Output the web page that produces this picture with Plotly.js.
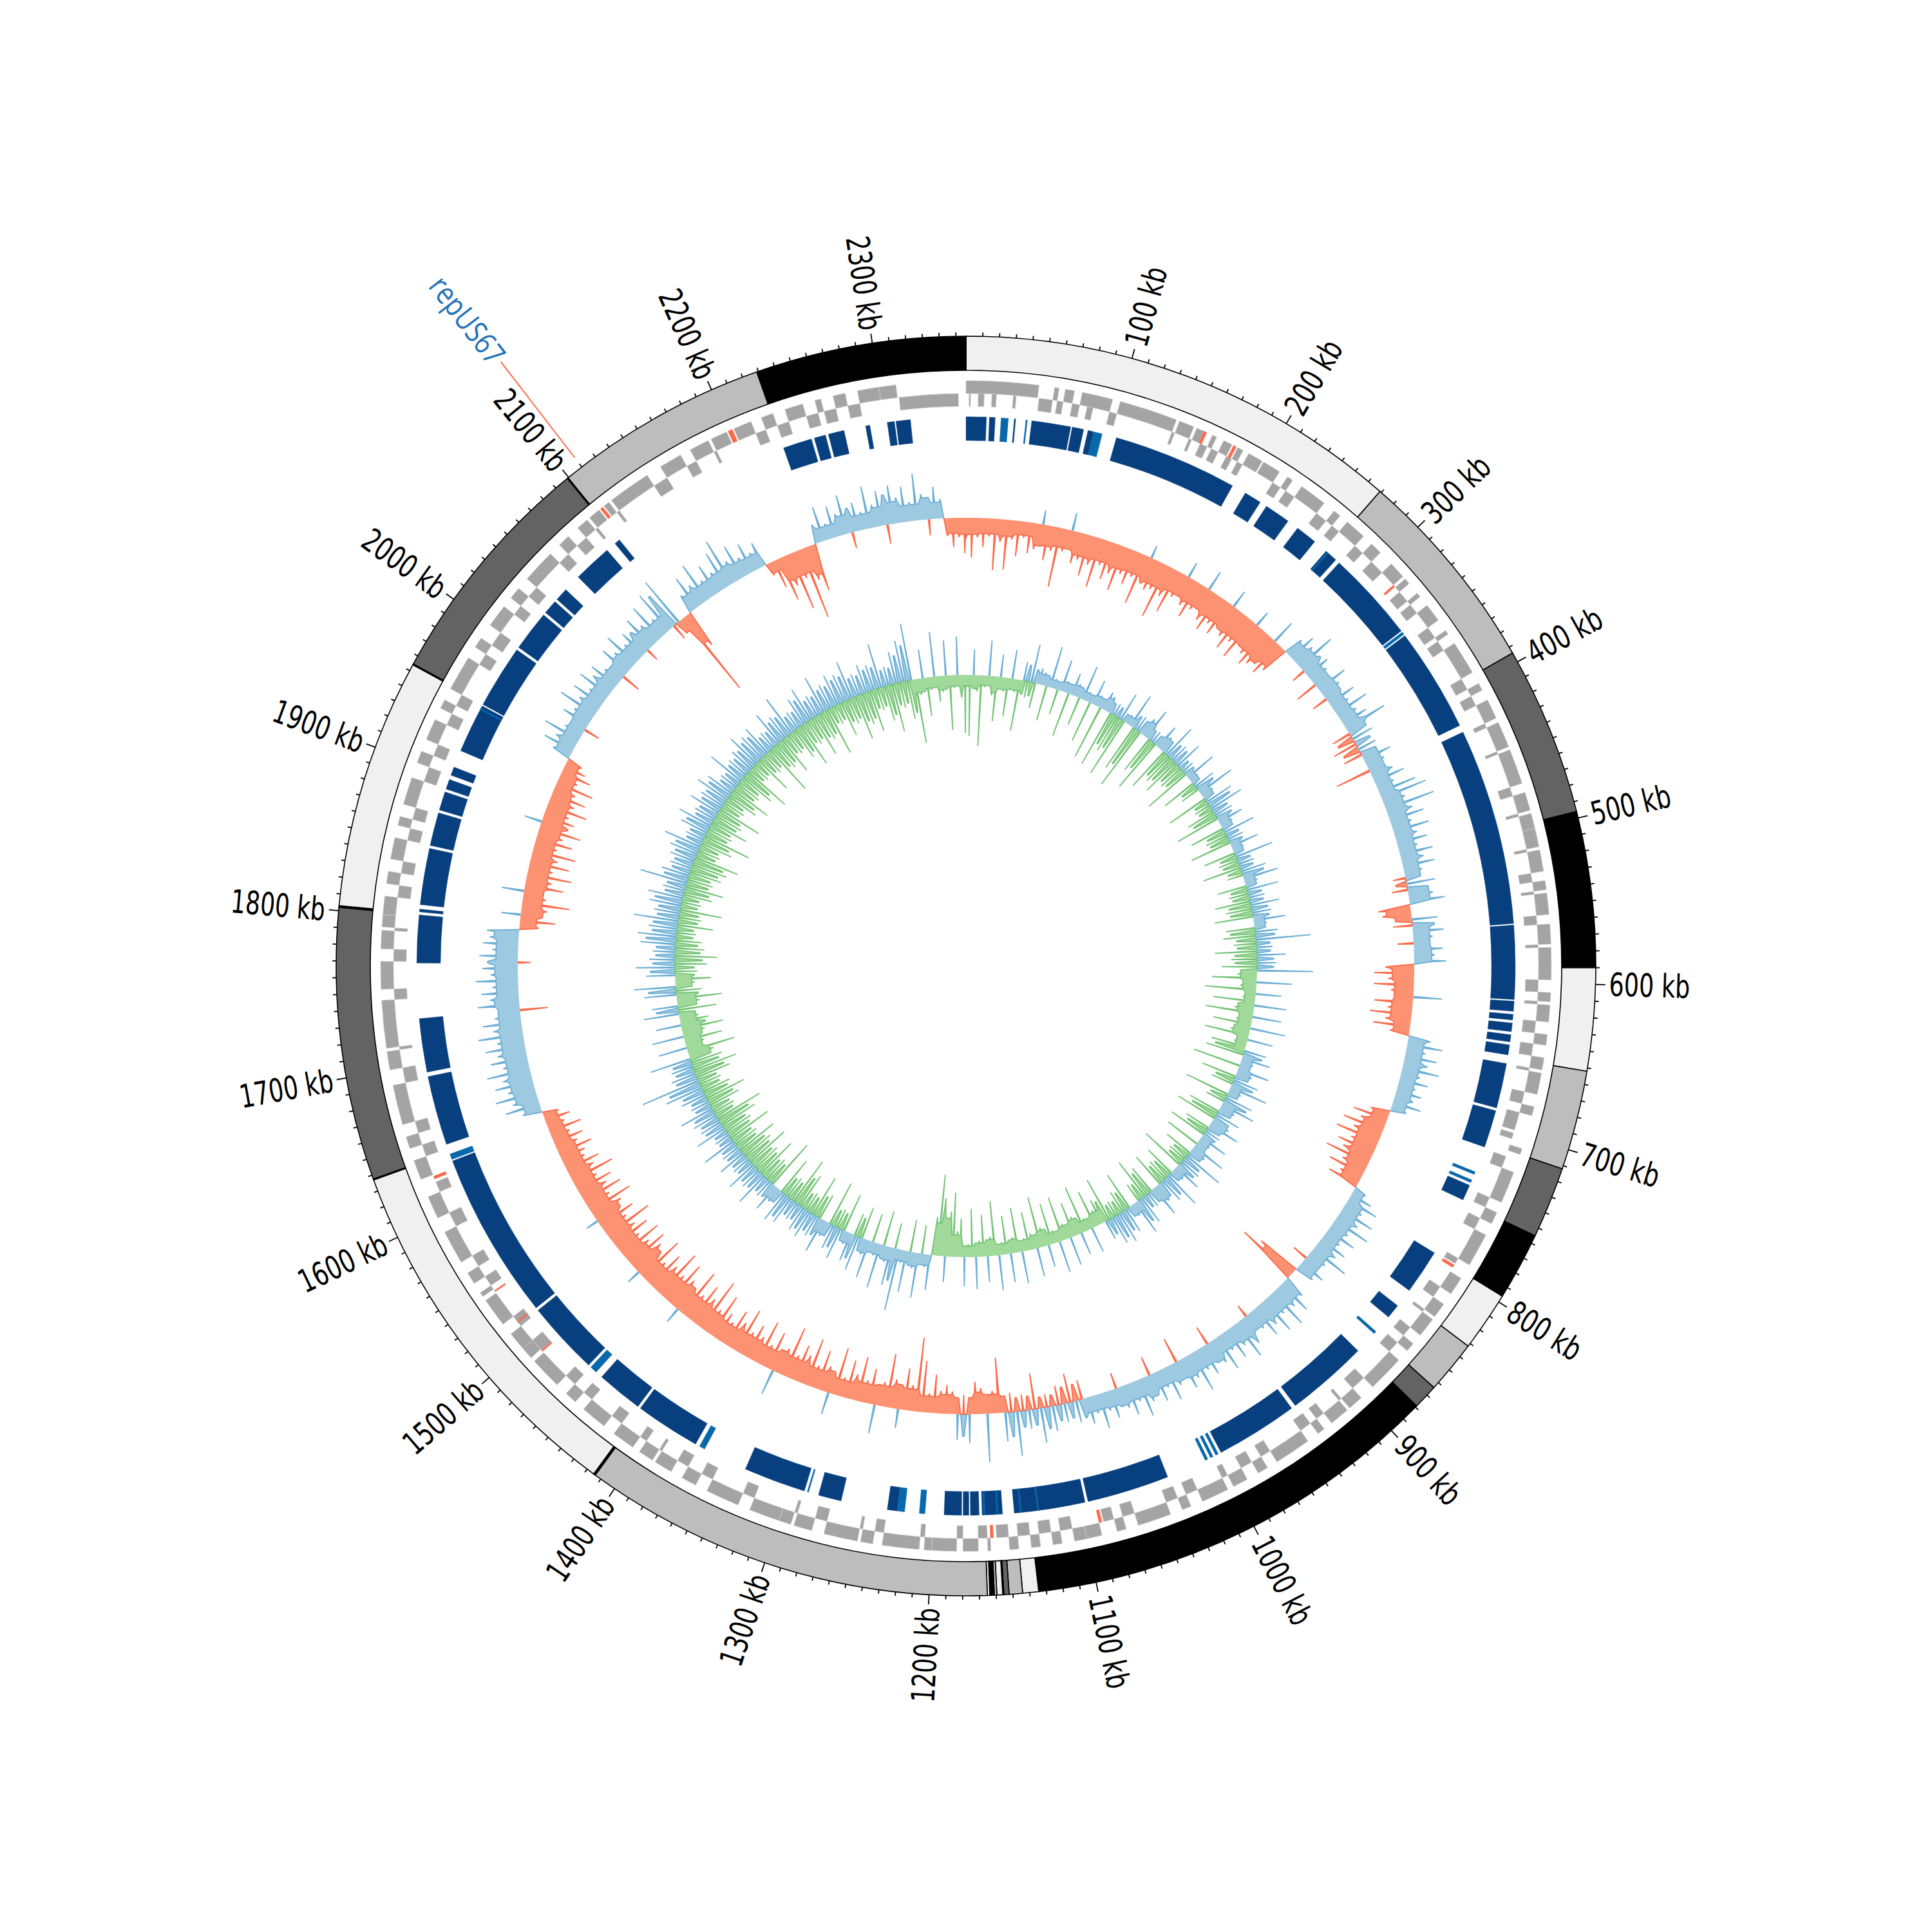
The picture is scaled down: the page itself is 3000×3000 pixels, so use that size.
<!DOCTYPE html>
<html><head><meta charset="utf-8">
<script src="https://cdn.plot.ly/plotly-3.0.1.min.js"></script>
<style>html,body{margin:0;padding:0;background:#fff}</style>
</head><body><div id="chart" style="width:3000px;height:3000px"></div>
<script>
// ---------------- DATA ----------------
const genomeSizeKb = 2356;
const binKb = 5;

// contigs (outer ring): start, end (kb) and shade class 0=light 1=grey 2=dark 3=black
const contigStartKb = [0,269,394,496,590,652,712,755,796,832,864,879,1134.6,1144.2,1152.3,1155.4,1156.1,1159.6,1161.1,1163.8,1165.3,1414,1414.6,1415.2,1637,1637.6,1802,1803,1954,1954.6,2099,2099.6,2229];
const contigEndKb   = [269,394,496,590,652,712,755,796,832,864,879,1134.6,1144.2,1152.3,1155.4,1156.1,1159.6,1161.1,1163.8,1165.3,1414,1414.6,1415.2,1637,1637.6,1802,1803,1954,1954.6,2099,2099.6,2229,2356];
const contigShade   = [0,1,2,3,0,1,2,3,0,1,2,3,0,1,2,3,0,1,3,0,1,2,3,0,1,2,3,0,1,2,3,1,3];

// CDS, forward strand (kb intervals)
const cdsForward = [[0,47],[57,60],[64,70],[75,95],[100,138],[140,150],[152,157],[163,166],[171,177],[181,185],[189,199],
[200,212],[218,222],[229,247],[255,260],[266,280],[287,295],[305,316],[318,322],[330,333],[340,352],[360,363],[370,392],
[400,405],[412,425],[428,445],[447,470],[476,488],[490,500],[500,512],[514,528],[534,540],[542,556],[562,575],[577,598],
[606,612],[614,625],[633,640],[648,656],[658,672],[680,686],[708,712],[724,745],[752,760],[768,790],
[800,812],[820,830],[832,845],[852,858],[866,890],[900,910],[912,925],[931,936],[944,968],[975,982],[990,1000],
[1004,1022],[1030,1036],[1044,1066],[1074,1080],[1090,1100],[1100,1108],[1116,1122],[1130,1136],[1144,1150],[1162,1164],[1170,1180],[1184,1200],
[1200,1205],[1208,1232],[1238,1246],[1248,1270],[1278,1290],[1292,1300],[1300,1320],[1328,1350],[1358,1368],[1376,1388],[1390,1400],
[1405,1420],[1428,1445],[1452,1460],[1468,1489],[1492,1500],[1500,1512],[1520,1539],[1542,1545],[1552,1560],[1568,1590],
[1600,1615],[1627,1640],[1648,1656],[1664,1690],[1700,1712],[1714,1745],[1752,1770],[1778,1790],[1792,1800],
[1800,1812],[1820,1828],[1836,1850],[1858,1864],[1872,1890],[1900,1908],[1916,1930],[1938,1944],[1952,1975],[1983,1990],
[2000,2015],[2022,2030],[2038,2060],[2068,2076],[2084,2092],[2094,2102],[2106,2110],[2112,2140],[2150,2165],[2172,2185],[2187,2198],
[2203,2215],[2222,2230],[2238,2250],[2258,2262],[2270,2278],[2286,2300],[2300,2311]];
// CDS, reverse strand
const cdsReverse = [[2,3],[8,12],[17,20],[31,33],[48,57],[60,64],[70,75],[80,84],[95,100],[138,140],[150,152],[158,163],[166,171],[177,181],[185,189],
[212,218],[222,229],[247,255],[260,266],[280,287],[295,305],[322,330],[333,340],[352,360],[363,370],[392,400],
[405,412],[425,428],[445,447],[470,476],[488,490],[512,514],[528,534],[540,542],[556,562],[575,577],[598,606],
[612,614],[625,633],[640,648],[656,658],[672,680],[686,698],[700,704],[716,724],[745,752],[760,768],[790,794],
[812,820],[830,832],[845,852],[858,866],[890,900],[910,912],[925,931],[936,944],[968,975],[982,990],
[1000,1004],[1022,1030],[1036,1044],[1066,1074],[1080,1087],[1108,1116],[1122,1130],[1136,1144],[1150,1158],[1164,1170],[1180,1184],
[1205,1208],[1232,1238],[1246,1248],[1270,1278],[1290,1292],[1320,1328],[1350,1358],[1368,1376],[1388,1390],
[1400,1405],[1420,1428],[1445,1452],[1460,1468],[1491,1500],[1512,1520],[1545,1552],[1560,1568],[1590,1600],
[1615,1622],[1640,1648],[1656,1664],[1690,1700],[1712,1714],[1745,1752],[1770,1778],[1790,1792],
[1812,1820],[1828,1836],[1850,1858],[1864,1872],[1890,1900],[1908,1916],[1930,1938],[1944,1952],[1975,1983],[1990,2000],
[2015,2022],[2030,2038],[2060,2068],[2076,2084],[2092,2094],[2110,2112],[2140,2150],[2165,2172],[2185,2187],
[2215,2222],[2230,2238],[2250,2258],[2262,2270],[2278,2286],[2312,2351]];
// rRNA / tRNA features
const rnaForward = [[157,159],[178,180],[2103,2105],[2199,2202]];
const rnaReverse = [[316,317.5],[795,797],[1088,1090],[1160,1162],[1490,1491],[1515,1516],[1540,1541],[1624,1626]];

// homology blocks (blue track)
const homologyStrong = [[0,14],[16,20],[33,34],[45,72],[73,81],[84,88],[104,190],[200,212],[217,235],[243,258],[268,277],[280,343],[347,419],[424,560],[561,612],[613,620],[622,626],[628,634],[636,641],[643,650],[656,687],[689,715],[743,754],[795,826],[839,849],[880,937],[940,997],[1037,1094],[1096,1145],[1153,1167],[1169,1175],[1176,1180],[1181,1193],[1225,1232],[1264,1280],[1290,1333],[1371,1416],[1418,1450],[1462,1513],[1515,1631],[1643,1691],[1694,1731],[1769,1802],[1804,1806],[1809,1848],[1850,1873],[1875,1888],[1890,1897],[1900,1906],[1918,1952],[1953,1997],[1999,2027],[2029,2039],[2041,2050],[2062,2089],[2096,2100],[2229,2249],[2251,2259],[2261,2272],[2287,2290],[2302,2307],[2308,2318]];
const homologyWeak = [[24,29],[41,42],[88,94],[269,270],[344,346],[733,735],[739,741],[862,864],[999,1001],[1003,1005],[1007,1009],[1128,1129],[1140,1141],[1156,1157],[1165,1166],[1206,1210],[1220,1225],[1287,1288],[1364,1368],[1455,1460],[1632,1636],[1949,1950]];

// GC content deviation, 5 kb windows starting at 0 kb
const gcContent = [
-32,-62,-30,-45,-28,-80,-35,-78,-30,-55,-25,-48,-40,22,-55,-38,-93,-35,28,-50,
-42,-65,-45,-78,-40,-60,-48,-72,-42,-55,-40,-80,20,-50,-45,-87,-48,-70,-40,25,
-45,-60,-42,32,-50,-62,-45,-58,28,-50,-66,-48,-70,25,-50,-63,-55,38,-58,-45,
30,45,35,64,-22,40,30,-35,50,32,-25,45,28,55,30,42,69,-30,35,-38,
30,-30,45,30,-56,35,50,28,60,74,35,79,40,55,32,57,35,48,30,52,
35,50,28,-20,45,-25,38,55,-50,-45,40,-30,48,30,-25,45,32,50,-45,-62,
-40,-62,-35,45,-60,-38,-65,-40,-58,-30,35,55,30,50,38,58,30,45,28,40,
30,45,25,-30,-55,-40,-65,-45,-70,-42,-60,-48,-72,-40,-58,-35,-50,20,35,50,
30,55,35,60,30,48,28,45,35,62,30,-25,42,30,-70,-98,35,55,38,65,
35,60,40,52,32,-20,45,62,35,50,30,58,40,-30,48,35,65,38,50,-40,
35,55,30,48,-30,40,60,32,50,35,-25,45,30,55,28,42,-30,35,-45,30,
-30,40,-20,55,-56,30,-25,70,-30,45,-86,-35,75,-40,-50,45,-30,40,-35,-45,
-35,-60,-30,-80,-115,-40,-65,30,-45,-84,-38,45,-55,-35,-70,-40,-60,-30,-75,35,
-40,-62,-35,-75,-45,-58,-38,-80,-42,40,-60,-35,-70,-40,-55,-38,-72,-45,-60,-35,
-45,-70,-40,-85,-48,-65,-42,-78,25,-50,-72,-45,-80,-48,-62,-40,-75,22,-55,-68,
-45,-70,-40,-62,-45,-78,-42,-60,20,-50,-72,-40,-65,-45,-58,-38,-70,-42,-55,-35,
-40,-55,-35,-48,-30,-52,-28,-40,-25,30,55,40,65,42,60,45,68,40,58,45,
62,42,70,45,60,40,-43,65,45,58,40,66,42,55,-20,60,40,55,45,50,
-30,-55,30,-40,-74,-36,35,-60,-40,-70,-38,-62,-42,-68,-36,-58,-40,-66,28,-50,
-38,-64,-40,-55,-35,-60,-30,-48,-35,-25,
30,50,35,60,30,-25,45,32,63,35,52,30,55,38,48,30,-30,50,35,58,32,45,-20,55,35,62,30,70,-25,80,
-139,-60,30,55,35,65,30,50,32,60,76,35,55,30,48,28,40,-20,-45,-70,
-50,-92,-45,-113,-55,-75,30,55,25,50,35,62,-25,45,28,66,35,55,-30,60,
40,55,30,73,40,-25,50,30,-28,-45,-30,-55];

// GC skew, 5 kb windows starting at 0 kb
const gcSkew = [
-20,-95,40,-25,-110,-18,55,-30,-70,35,-22,-60,45,-20,-80,30,-25,60,-40,25,
20,-55,65,15,-40,50,18,-70,35,20,-45,55,15,-65,40,18,-85,30,25,-90,
20,-60,45,-95,15,55,-75,25,-100,30,50,-60,20,-85,40,25,-70,55,-50,30,
-60,45,-40,20,-75,50,15,-55,35,-30,60,20,-65,45,-25,55,-45,30,-70,40,
20,-55,50,-35,25,-65,45,18,-50,60,-30,25,-60,40,-25,55,20,-45,50,-30,
25,-55,45,-40,30,-60,50,20,-45,35,-50,85,-35,25,-65,45,-40,30,-55,87,
-30,-70,55,-25,-80,40,-20,-65,50,-30,-75,45,-25,-60,55,-30,-70,40,-20,-55,
35,-60,45,20,-75,50,25,-55,40,-35,60,20,-70,45,-30,55,25,-50,40,-65,
30,50,-40,25,-60,45,20,-55,55,25,-45,65,-30,35,-70,45,20,-50,60,-35,
40,-55,30,50,-45,25,-65,45,-30,55,20,-60,40,-35,50,-25,45,-70,30,-40,
-25,-60,40,-20,-75,35,-30,-55,45,-25,-70,50,-20,-65,35,-30,-80,45,-25,-60,
-20,50,-70,-25,45,-60,-20,55,-85,-30,40,-65,-25,50,-75,-20,45,-60,-40,-100,
-70,40,-90,-126,-60,55,20,-45,70,25,-50,65,20,97,-40,60,25,-55,70,20,
-45,60,25,-50,55,-35,45,20,-60,50,-30,40,-70,25,55,-40,35,-65,45,-30,
40,-55,30,-75,45,-35,50,-60,25,45,-80,30,-40,55,-65,35,-45,50,-70,30,
-50,45,-65,30,-40,55,-70,25,-45,50,-60,35,-75,40,-35,55,-50,30,-65,40,
-45,60,-35,94,-55,40,-70,35,-50,65,-40,-75,45,-30,-60,50,-35,-65,40,-45,
-30,55,-60,40,-35,-70,50,-40,65,-30,-55,45,-35,60,-50,40,-65,35,-45,55,
-40,60,-30,45,-55,70,-35,40,-65,50,-30,55,-45,35,-60,75,-40,45,-50,35,
-55,40,-70,45,-35,60,-50,30,-75,45,-40,55,-60,35,-45,50,-70,40,-35,55,
-50,45,-65,30,-40,60,-55,35,-75,40,-30,55,-60,45,-35,50,-80,30,-45,55,
-60,40,-35,65,-50,30,-70,45,-40,55,-65,35,-45,60,-75,40,-30,50,-55,45,
-40,60,-70,35,-50,45,-65,40,-35,70,-55,30,-75,50,-40,65,-60,89,-100,-25,
45,-60,-20,70,-40,-25,55,-85,-20,60,-35,-90];

// labelled feature
const markerName = "repUS67";
const markerKb = 2110;

// ---------------- GEOMETRY / STYLE ----------------
const W = 3000, C = 1500;
const shadePalette = ['#f0f0f0','#bdbdbd','#636363','#000000'];
const R_OUT = 978, R_IN = 925;
const CDS_F = [889, 20], CDS_R = [869, 20];
const HOM = [816, 37];
const GC_R0 = 696, GC_H = 139;
const SK_R0 = 452, SK_H = 126;
const BAND = 0.85, SPIKE_HALF_KB = 0.6;
const TICK_FONT = '"Liberation Sans Narrow", "DejaVu Sans Condensed", "Roboto Condensed", "Liberation Sans", sans-serif';
const TICK_SIZE = 50;
const LABEL_FONT = '"Open Sans", "Noto Sans", sans-serif';
const LABEL_SIZE = 48;

const deg = kb => kb / genomeSizeKb * 360;

function bars(pairs, base, thick, color, lineColor, lineWidth) {
  return {
    type: 'barpolar',
    theta: pairs.map(p => deg((p[0] + p[1]) / 2)),
    width: pairs.map(p => deg(p[1] - p[0])),
    base: pairs.map(() => base),
    r: pairs.map(() => thick),
    marker: {color: color, line: {color: lineColor, width: lineWidth}},
    hoverinfo: 'skip'
  };
}

// turn window values into a band + needle outline (drawing only)
function shapeSeries(values, sign) {
  const n = values.length;
  const s = values.map(v => sign * v);
  const B = new Array(n), S = new Array(n);
  for (let i = 0; i < n; i++) {
    const a = s[(i - 1 + n) % n], b = s[i], c = s[(i + 1) % n];
    if (b > 0) {
      const same = [b]; if (a > 0) same.push(a); if (c > 0) same.push(c);
      B[i] = same.length >= 2 ? BAND * Math.min(...same) : 0;
      S[i] = b;
    } else {
      B[i] = (a > 0 && c > 0) ? BAND * Math.min(a, c) : 0;
      S[i] = B[i];
    }
  }
  const kb = [], lv = [];
  for (let i = 0; i < n; i++) {
    const x = i * binKb;
    kb.push(i === 0 ? 0 : x - binKb / 2); lv.push(Math.min(B[i], B[(i - 1 + n) % n]));
    kb.push(x - SPIKE_HALF_KB); lv.push(B[i]);
    kb.push(x); lv.push(S[i]);
    kb.push(x + SPIKE_HALF_KB); lv.push(B[i]);
  }
  kb.push(genomeSizeKb); lv.push(Math.min(B[n - 1], B[0]));
  return {kb, lv};
}

function seriesTraces(values, r0, H, sign, fillColor, lineColor) {
  const scale = H / Math.max(...values.map(Math.abs));
  const {kb, lv} = shapeSeries(values, sign);
  const th = [], rr = [];
  for (let k = 0; k < kb.length; k++) { th.push(deg(kb[k])); rr.push(r0 + sign * lv[k] * scale); }
  for (let x = genomeSizeKb; x >= 0; x -= binKb) { th.push(deg(x)); rr.push(r0); }
  th.push(0); rr.push(r0);
  const fill = {type: 'scatterpolar', mode: 'lines', theta: th, r: rr, fill: 'toself',
    fillcolor: fillColor, line: {width: 0, color: fillColor}, hoverinfo: 'skip'};
  const lth = [], lrr = [];
  let lastNull = true;
  for (let k = 0; k < kb.length; k++) {
    const keep = lv[k] > 0 || (k > 0 && lv[k - 1] > 0) || (k < kb.length - 1 && lv[k + 1] > 0);
    if (keep) { lth.push(deg(kb[k])); lrr.push(r0 + sign * lv[k] * scale); lastNull = false; }
    else if (!lastNull) { lth.push(deg(kb[k])); lrr.push(null); lastNull = true; }
  }
  const edge = {type: 'scatterpolar', mode: 'lines', theta: lth, r: lrr, connectgaps: false,
    line: {width: 1.8, color: lineColor}, hoverinfo: 'skip'};
  return [fill, edge];
}

const traces = [];

// outer contig ring
const contigPairs = contigStartKb.map((s, i) => [s, contigEndKb[i]]);
traces.push(bars(contigPairs, R_IN, R_OUT - R_IN, contigShade.map(s => shadePalette[s]), '#000000', 1.6));

// CDS tracks
traces.push(bars(cdsForward, CDS_F[0], CDS_F[1], '#a4a4a4', '#d4d4d4', 0.6));
traces.push(bars(cdsReverse, CDS_R[0], CDS_R[1], '#a4a4a4', '#d4d4d4', 0.6));
traces.push(bars(rnaForward, CDS_F[0], CDS_F[1], '#fb6a4a', '#fb6a4a', 0.3));
traces.push(bars(rnaReverse, CDS_R[0], CDS_R[1], '#fb6a4a', '#fb6a4a', 0.3));

// homology blocks
traces.push(bars(homologyStrong, HOM[0], HOM[1], '#08407f', '#08407f', 0.3));
traces.push(bars(homologyWeak, HOM[0], HOM[1], '#0868ac', '#0868ac', 0.3));

// GC content
traces.push(...seriesTraces(gcContent, GC_R0, GC_H, 1, '#9ecae1', '#6baed6'));
traces.push(...seriesTraces(gcContent, GC_R0, GC_H, -1, '#fc9272', '#fb6a4a'));
// GC skew
traces.push(...seriesTraces(gcSkew, SK_R0, SK_H, 1, '#9ecae1', '#6baed6'));
traces.push(...seriesTraces(gcSkew, SK_R0, SK_H, -1, '#a1d99b', '#74c476'));

// ticks
const tth = [], trr = [];
for (let kb = 10; kb < genomeSizeKb; kb += 10) {
  const len = (kb % 100 === 0) ? 15 : 6;
  const t = deg(kb);
  tth.push(t, t, t); trr.push(R_OUT, R_OUT + len, null);
}
traces.push({type: 'scatterpolar', mode: 'lines', theta: tth, r: trr, connectgaps: false,
             line: {color: '#000000', width: 1.8}, hoverinfo: 'skip'});

// marker line
traces.push({type: 'scatterpolar', mode: 'lines', theta: [deg(markerKb), deg(markerKb)], r: [996, 1184],
             line: {color: '#fb6a4a', width: 2}, hoverinfo: 'skip'});

// annotations (tick labels and marker label)
function polarToPaper(t, r) {
  const a = t * Math.PI / 180;
  return [(C + r * Math.sin(a)) / W, (C + r * Math.cos(a)) / W];
}
const annotations = [], annLength = [];
for (let kb = 100; kb < genomeSizeKb; kb += 100) {
  const text = kb + ' kb';
  const t = deg(kb);
  const len = 21 * String(kb).length + 63;
  const [x, y] = polarToPaper(t, 999 + len / 2);
  annotations.push({xref: 'paper', yref: 'paper', x: x, y: y, text: text, showarrow: false,
    xanchor: 'center', yanchor: 'middle', textangle: t < 180 ? t - 90 : t - 270,
    font: {family: TICK_FONT, size: TICK_SIZE, color: '#000000'}});
  annLength.push(len);
}
{
  const t = deg(markerKb);
  const len = 158;
  const [x, y] = polarToPaper(t, 1188 + len / 2);
  annotations.push({xref: 'paper', yref: 'paper', x: x, y: y, text: markerName, showarrow: false,
    xanchor: 'center', yanchor: 'middle', textangle: t < 180 ? t - 90 : t - 270,
    font: {family: LABEL_FONT, size: LABEL_SIZE, color: '#2171b5'}});
  annLength.push(len);
}

const layout = {
  width: W, height: W,
  margin: {l: 0, r: 0, t: 0, b: 0, pad: 0},
  paper_bgcolor: '#ffffff',
  showlegend: false,
  polar: {
    domain: {x: [0, 1], y: [0, 1]},
    bgcolor: '#ffffff',
    hole: 0,
    radialaxis: {range: [0, C], visible: false, showgrid: false},
    angularaxis: {rotation: 90, direction: 'clockwise', visible: false, showgrid: false}
  },
  annotations: annotations
};

Plotly.newPlot('chart', traces, layout, {staticPlot: true, displayModeBar: false}).then(() => {
  annLength.forEach((len, i) => {
    const el = document.querySelector('g.annotation[data-index="' + i + '"] text.annotation-text');
    if (el) { el.setAttribute('textLength', len); el.setAttribute('lengthAdjust', 'spacingAndGlyphs'); }
  });
});
</script>
</body></html>
